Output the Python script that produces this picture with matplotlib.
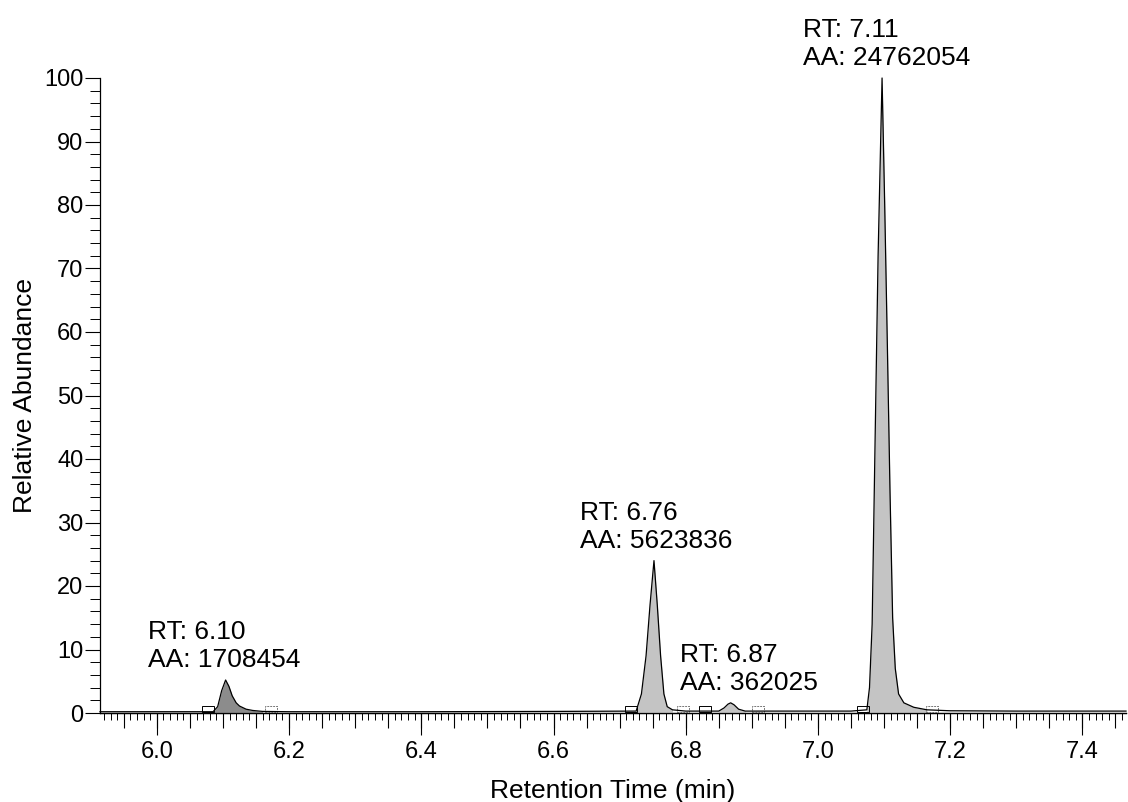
import numpy as np
import matplotlib
matplotlib.use("Agg")
import matplotlib.pyplot as plt
from matplotlib.patches import Rectangle
from matplotlib.ticker import MultipleLocator, FuncFormatter

plt.rcParams['font.family'] = ['Liberation Sans', 'DejaVu Sans']

# Chromatogram trace
rt_min = [5.914, 6.00, 6.085, 6.092, 6.098, 6.104, 6.109, 6.114, 6.12, 6.125, 6.135,
          6.145, 6.16, 6.20, 6.40, 6.60, 6.725, 6.733, 6.740, 6.746, 6.752, 6.757,
          6.762, 6.767, 6.772, 6.78, 6.80, 6.85, 6.858, 6.864, 6.868, 6.873, 6.88,
          6.89, 6.95, 7.05, 7.074, 7.078, 7.082, 7.086, 7.091, 7.097, 7.101, 7.105,
          7.109, 7.113, 7.117, 7.122, 7.13, 7.145, 7.165, 7.20, 7.30, 7.466]
abundance = [0.2, 0.2, 0.2, 1.0, 3.5, 5.2, 4.2, 2.7, 1.6, 1.1, 0.6,
             0.4, 0.25, 0.2, 0.2, 0.25, 0.3, 3.0, 9.0, 17.0, 24.0, 17.0,
             9.0, 3.0, 1.0, 0.5, 0.3, 0.3, 0.8, 1.4, 1.6, 1.3, 0.6,
             0.3, 0.3, 0.3, 0.5, 4.0, 14.0, 40.0, 72.0, 100.0, 80.0, 58.0,
             35.0, 15.0, 7.0, 3.0, 1.6, 0.9, 0.5, 0.35, 0.3, 0.3]

# integrated peaks
peak_start = [6.085, 6.725, 6.85, 7.074]
peak_end = [6.17, 6.78, 6.89, 7.17]
peak_height = [5.2, 24.0, 1.6, 100.0]
peak_rt = ["6.10", "6.76", "6.87", "7.11"]
peak_area = ["1708454", "5623836", "362025", "24762054"]
label_left = [5.986, 6.640, 6.791, 6.977]
peak_shade = ["#8c8c8c", "#c4c4c4", "#c4c4c4", "#c4c4c4"]

# integration markers (small boxes on the baseline)
box_left = [6.068, 6.708, 6.820, 7.059]
box_right = [6.164, 6.787, 6.900, 7.164]

fig = plt.figure(figsize=(11.28, 8.02), dpi=100)
ax = fig.add_axes([100 / 1128, 1 - 713 / 802, 1026 / 1128, 635 / 802])

t = np.array(rt_min)
a = np.array(abundance)

for s, e, c in zip(peak_start, peak_end, peak_shade):
    m = (t >= s) & (t <= e)
    ax.fill_between(t[m], 0, a[m], color=c, linewidth=0)
ax.plot(t, a, color="black", linewidth=0.9, clip_on=False)

for x in box_left:
    ax.add_patch(Rectangle((x, 0.1), 0.018, 1.0, fill=False, edgecolor="black", linewidth=0.7))
for x in box_right:
    ax.add_patch(Rectangle((x, 0.1), 0.018, 1.0, fill=False, edgecolor="#777777",
                           linewidth=0.7, linestyle=(0, (2, 1))))

for lx, h, rt, aa in zip(label_left, peak_height, peak_rt, peak_area):
    ax.annotate(f"RT: {rt}\nAA: {aa}", xy=(lx, h), xytext=(0, 8),
                textcoords="offset pixels", ha="left", va="bottom",
                fontsize=19, annotation_clip=False)

ax.set_xlim(5.914, 7.466)
ax.set_ylim(0, 100)
ax.spines['top'].set_visible(False)
ax.spines['right'].set_visible(False)
for sp in ax.spines.values():
    sp.set_linewidth(0.9)

# x ticks: 0.05 medium (labelled every 0.2), 0.01 minor, 0.2 long via secondary axis
ax.xaxis.set_major_locator(MultipleLocator(0.05))
ax.xaxis.set_minor_locator(MultipleLocator(0.01))
ax.xaxis.set_major_formatter(FuncFormatter(
    lambda v, p: f"{v:.1f}" if abs(v / 0.2 - round(v / 0.2)) < 1e-6 else ""))
ax.tick_params(axis='x', which='major', length=11, width=0.8, labelsize=17, pad=9)
ax.tick_params(axis='x', which='minor', length=5, width=0.7)
sec = ax.secondary_xaxis('bottom')
sec.xaxis.set_major_locator(MultipleLocator(0.2))
sec.tick_params(axis='x', length=16, width=0.8, labelbottom=False)
sec.spines['bottom'].set_linewidth(0.9)

ax.yaxis.set_major_locator(MultipleLocator(10))
ax.yaxis.set_minor_locator(MultipleLocator(2))
ax.tick_params(axis='y', which='major', length=11, width=0.8, labelsize=17, pad=1)
ax.tick_params(axis='y', which='minor', length=7, width=0.7)

ax.set_xlabel("Retention Time (min)", fontsize=19, labelpad=12)
ax.set_ylabel("Relative Abundance", fontsize=19, labelpad=5)

fig.savefig("out.png", dpi=100)
